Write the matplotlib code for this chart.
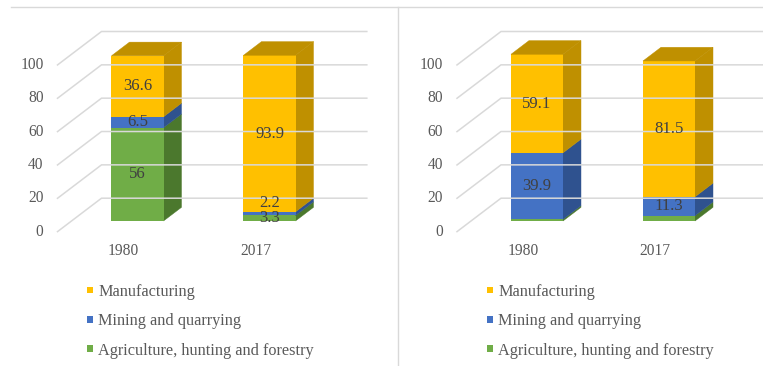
import matplotlib.pyplot as plt
from matplotlib.patches import Polygon, Rectangle
from matplotlib.lines import Line2D

plt.rcParams['font.family'] = ['Liberation Serif', 'DejaVu Serif']

#---------------------------- data ----------------------------#
years = ["1980", "2017"]
sector_names = ["Agriculture, hunting and forestry", "Mining and quarrying", "Manufacturing"]

# left chart (shares, %)
left_agri = [56, 3.3]
left_mining = [6.5, 2.2]
left_manuf = [36.6, 93.9]

# right chart (shares, %)
right_agri = [1.0, 3.2]
right_mining = [39.9, 11.3]
right_manuf = [59.1, 81.5]

y_ticks = [0, 20, 40, 60, 80, 100]

#---------------------------- style ----------------------------#
face_col = ["#70AD47", "#4472C4", "#FFC000"]
side_col = ["#4B782D", "#2F528F", "#BF9000"]
grid_col = "#D9D9D9"
tick_col = "#595959"
label_col = "#404040"

W, H = 763, 366          # figure size in px
PX_X = 132.0             # px per category
PX_Y = 1.667             # px per value unit
SLOPE = 0.76             # rise of the depth axis per px
BAR_W = 0.394
BASE_PX = 221            # px (from top) of the bars' front base

fig = plt.figure(figsize=(W / 100, H / 100), dpi=100)


def depth(d):
    # offset (data units) of depth d px, measured from the bars' front plane (d=14)
    return (d - 14) / PX_X, SLOPE * (d - 14) / PX_Y


def panel(cx0, agri, mining, manuf, show, lab_shift):
    ax = fig.add_axes([(cx0 - 0.7 * PX_X) / W, 1 - (BASE_PX + 12 * PX_Y) / H,
                       2.5 * PX_X / W, 130 * PX_Y / H])
    ax.set_xlim(-0.7, 1.8)
    ax.set_ylim(-12, 118)
    ax.axis("off")

    fdx, fdy = depth(0)
    wdx, wdy = depth(44)
    bdx, bdy = depth(32)
    x_side, x_end = -0.5, 1.51

    # side wall and back wall gridlines
    for v in y_ticks:
        ax.plot([x_side + fdx, x_side + wdx, x_end + wdx],
                [v + fdy, v + wdy, v + wdy], color=grid_col, lw=1.1,
                solid_joinstyle="miter", clip_on=False)
        ax.text(x_side + fdx - 14 / PX_X, v + fdy, str(v), ha="right", va="center",
                fontsize=11.2, color=tick_col)

    for i, yr in enumerate(years):
        ax.text(i + fdx, fdy - 11.6, yr, ha="center", va="center",
                fontsize=11.2, color=tick_col)

    series = [agri, mining, manuf]
    for i in range(len(years)):
        bottom = 0
        xl, xr = i - BAR_W / 2, i + BAR_W / 2
        for s, vals in enumerate(series):
            v = vals[i]
            top = bottom + v
            ax.add_patch(Polygon([(xr, bottom), (xr + bdx, bottom + bdy),
                                  (xr + bdx, top + bdy), (xr, top)],
                                 closed=True, fc=side_col[s], ec=side_col[s], lw=0.3))
            ax.bar(i, v, BAR_W, bottom=bottom, color=face_col[s], lw=0)
            if show[s]:
                ax.text(i, bottom + v / 2 + lab_shift.get((s, i), 0), f"{v:g}",
                        ha="center", va="center", fontsize=12, color=label_col)
            bottom = top
        # top face of the stack
        ax.add_patch(Polygon([(xl, bottom), (xl + bdx, bottom + bdy),
                              (xr + bdx, bottom + bdy), (xr, bottom)],
                             closed=True, fc=side_col[2], ec=side_col[2], lw=0.3))
    return ax


panel(137.5, left_agri, left_mining, left_manuf, [True, True, True], {(1, 1): 6.5})
panel(537.0, right_agri, right_mining, right_manuf, [False, True, True], {})

# legends
for lx in (90, 490):
    for r, s in enumerate([2, 1, 0]):
        cy = 290 + r * 29.3
        fig.add_artist(Rectangle(((lx - 3.4) / W, 1 - (cy + 3.4) / H), 6.8 / W, 6.8 / H,
                                 transform=fig.transFigure, fc=face_col[s], lw=0))
        fig.text((lx + 8.5) / W, 1 - cy / H, sector_names[s], ha="left",
                 va="center_baseline", fontsize=11.7, color=tick_col)

# panel borders
fig.add_artist(Line2D([11 / W, 1], [1 - 6.5 / H] * 2, color=grid_col, lw=1))
fig.add_artist(Line2D([397.5 / W] * 2, [1 - 6.5 / H, 0], color=grid_col, lw=1))

fig.savefig("out.png", dpi=100, facecolor="white")
